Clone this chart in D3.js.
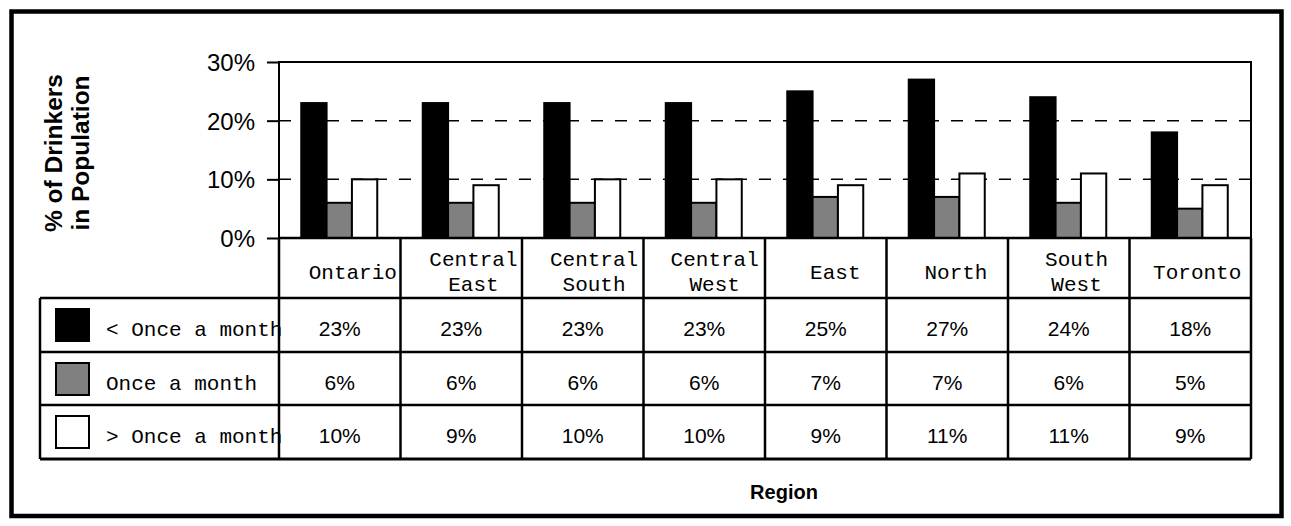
<!DOCTYPE html>
<html>
<head>
<meta charset="utf-8">
<script src="https://cdn.jsdelivr.net/npm/d3@7"></script>
<style>
  html, body { margin: 0; padding: 0; background: #fff; }
  svg { display: block; }
  .sans { font-family: Arial, "Liberation Sans", sans-serif; }
  .mono { font-family: "Courier New", "Liberation Mono", monospace; }
</style>
</head>
<body>
<svg id="chart" width="1291" height="526"></svg>
<script>
// Regions (header cells; "\n" splits a label over two lines)
const regions = ["Ontario", "Central\nEast", "Central\nSouth", "Central\nWest", "East", "North", "South\nWest", "Toronto"];
// Drinking frequency series
const seriesNames = ["< Once a month", "Once a month", "> Once a month"];
const seriesColors = ["#000000", "#808080", "#ffffff"];
// Percent of drinkers, per region
const lessThanMonthly = [23, 23, 23, 23, 25, 27, 24, 18];
const onceMonthly     = [6, 6, 6, 6, 7, 7, 6, 5];
const moreThanMonthly = [10, 9, 10, 10, 9, 11, 11, 9];
const seriesValues = [lessThanMonthly, onceMonthly, moreThanMonthly];
const yTicks = [0, 10, 20, 30];

const svg = d3.select("#chart");

// Layout
const plotLeft = 279, plotRight = 1251, plotTop = 62, plotBottom = 238;
const tableLeft = 40;
const headerBottom = 298;
const rowBounds = [298, 352, 405, 459];

const x = d3.scaleBand().domain(d3.range(regions.length)).range([plotLeft, plotRight]).paddingInner(0);
const y = d3.scaleLinear().domain([0, 30]).range([plotBottom, plotTop]);
const barGroupWidth = 76;
const sub = d3.scaleBand().domain(d3.range(seriesNames.length)).range([0, barGroupWidth]);
const groupOffset = (x.bandwidth() - barGroupWidth) / 2 - 0.5;
// header text sits a little right of the cell centres
const headerX = d3.scaleBand().domain(d3.range(regions.length)).range([plotLeft + 13.5, plotRight + 6.5]);

// Outer frame
svg.append("rect")
  .attr("x", 11.5).attr("y", 11.5)
  .attr("width", 1270).attr("height", 504.5)
  .attr("fill", "none").attr("stroke", "#000").attr("stroke-width", 4.5);

// Dashed gridlines
svg.append("g").selectAll("line")
  .data(yTicks.filter(t => t > 0 && t < 30))
  .join("line")
  .attr("x1", plotLeft).attr("x2", plotRight)
  .attr("y1", d => y(d)).attr("y2", d => y(d))
  .attr("stroke", "#000").attr("stroke-width", 1.5)
  .attr("stroke-dasharray", "12,12");

// Bars
const flat = [];
regions.forEach((r, i) => seriesValues.forEach((vals, s) => flat.push({ i, s, v: vals[i] })));
svg.append("g").selectAll("rect")
  .data(flat)
  .join("rect")
  .attr("x", d => x(d.i) + groupOffset + sub(d.s))
  .attr("y", d => y(d.v))
  .attr("width", sub.bandwidth())
  .attr("height", d => y(0) - y(d.v))
  .attr("fill", d => seriesColors[d.s])
  .attr("stroke", "#000").attr("stroke-width", 2);

// Plot frame (top and right), left axis line
svg.append("path")
  .attr("d", `M${plotLeft},${plotBottom}V${plotTop}H${plotRight}V${plotBottom}`)
  .attr("fill", "none").attr("stroke", "#000").attr("stroke-width", 2);

// Y axis ticks and labels
const yAxis = d3.axisLeft(y).tickValues(yTicks).tickFormat(d => d + "%").tickSize(12).tickPadding(12);
const yg = svg.append("g").attr("transform", `translate(${plotLeft},0)`).call(yAxis);
yg.select(".domain").remove();
yg.selectAll(".tick line").attr("stroke", "#000").attr("stroke-width", 2);
yg.selectAll(".tick text")
  .attr("class", "sans").attr("fill", "#000")
  .style("font-size", "24px").attr("dy", "0.36em");

// Y axis title
const yTitle = svg.append("text")
  .attr("class", "sans")
  .attr("transform", "translate(62,153) rotate(-90)")
  .attr("text-anchor", "middle")
  .style("font-size", "24.5px").style("font-weight", "bold");
yTitle.append("tspan").attr("x", 0).attr("y", 0).text("% of Drinkers");
yTitle.append("tspan").attr("x", 0).attr("y", 27).text("in Population");

// Data table grid
const grid = svg.append("g").attr("stroke", "#000").attr("stroke-width", 2.5).attr("fill", "none");
// horizontal rules
rowBounds.forEach((yy, k) => {
  grid.append("line")
    .attr("x1", tableLeft).attr("x2", plotRight)
    .attr("y1", yy).attr("y2", yy)
    .attr("stroke-width", k === rowBounds.length - 1 ? 3 : 2.5);
});
// bottom of the plot / top of the header row
grid.append("line").attr("x1", plotLeft).attr("x2", plotRight).attr("y1", plotBottom).attr("y2", plotBottom);
// left edge of the legend column
grid.append("line").attr("x1", tableLeft).attr("x2", tableLeft).attr("y1", headerBottom).attr("y2", rowBounds[3]);
// region separators
d3.range(regions.length + 1).forEach(i => {
  const xx = i < regions.length ? x(i) : plotRight;
  grid.append("line").attr("x1", xx).attr("x2", xx).attr("y1", plotBottom).attr("y2", rowBounds[3]);
});

// Region header labels
const header = svg.append("g").attr("class", "mono").style("font-size", "21px");
regions.forEach((r, i) => {
  const lines = r.split("\n");
  const cx = headerX(i) + headerX.bandwidth() / 2;
  const t = header.append("text").attr("text-anchor", "middle").attr("fill", "#000");
  if (lines.length === 1) {
    t.append("tspan").attr("x", cx).attr("y", 279).text(lines[0]);
  } else {
    lines.forEach((ln, k) => t.append("tspan").attr("x", cx).attr("y", 266 + k * 24.5).text(ln));
  }
});

// Legend column: swatches and series names
seriesNames.forEach((name, s) => {
  const top = rowBounds[s];
  svg.append("rect")
    .attr("x", 56).attr("y", top + 11)
    .attr("width", 33).attr("height", 32)
    .attr("fill", seriesColors[s]).attr("stroke", "#000").attr("stroke-width", 2);
  svg.append("text")
    .attr("class", "mono")
    .attr("x", 106).attr("y", top + 38)
    .style("font-size", "21px").attr("fill", "#000")
    .text(name);
});

// Table values
seriesValues.forEach((vals, s) => {
  const top = rowBounds[s];
  svg.append("g").selectAll("text")
    .data(vals)
    .join("text")
    .attr("class", "sans")
    .attr("x", (d, i) => x(i) + x.bandwidth() / 2)
    .attr("y", top + 38)
    .attr("text-anchor", "middle")
    .style("font-size", "21px").attr("fill", "#000")
    .text(d => d + "%");
});

// X axis title
svg.append("text")
  .attr("class", "sans")
  .attr("x", 784).attr("y", 499)
  .attr("text-anchor", "middle")
  .style("font-size", "20px").style("font-weight", "bold")
  .text("Region");
</script>
</body>
</html>
